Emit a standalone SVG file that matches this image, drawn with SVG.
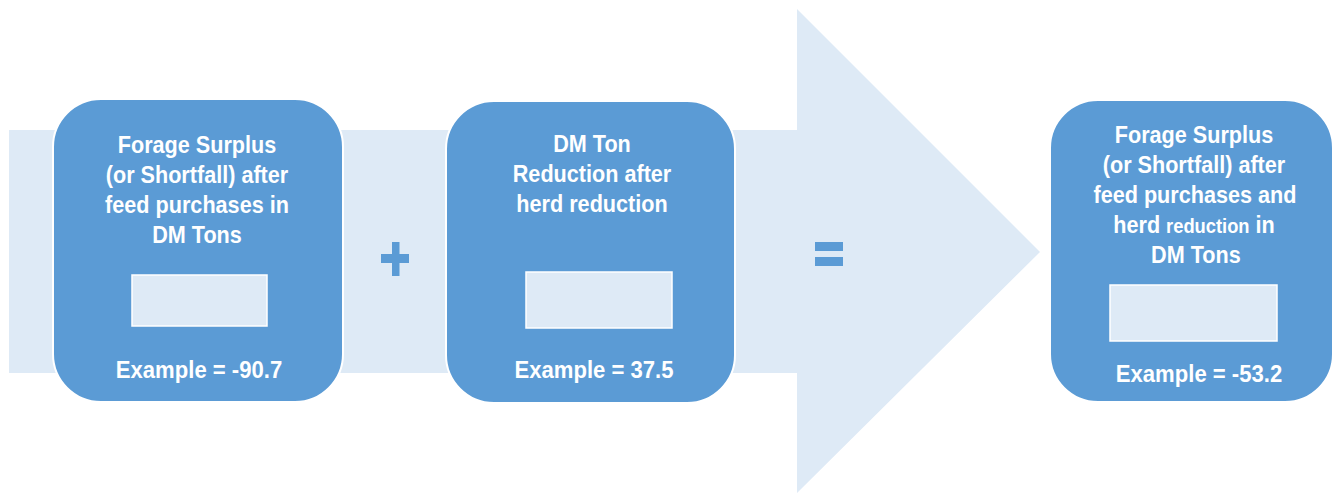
<svg xmlns="http://www.w3.org/2000/svg" width="1335" height="493" viewBox="0 0 1335 493">
  <style>
    .band { fill: #deeaf6; }
    .card { fill: #5b9bd5; stroke: #ffffff; stroke-width: 2; }
    .field { fill: #deeaf6; stroke: #ffffff; stroke-width: 1.5; }
    .label { font-family: "Liberation Sans", Arial, sans-serif; font-weight: bold; font-size: 23px; fill: #ffffff; text-anchor: middle; }
    .value { font-family: "Liberation Sans", Arial, sans-serif; font-weight: bold; font-size: 23.5px; fill: #ffffff; text-anchor: middle; }
    .op { fill: #5b9bd5; }
  </style>

  <!-- background process arrow -->
  <g id="connectors">
    <polygon class="band" points="9,130 797,130 797,9 1040,252 797,493 797,373 9,373"/>
    <!-- plus sign -->
    <g id="plus" class="op">
      <rect x="392" y="242" width="7.5" height="34"/>
      <rect x="381" y="254" width="28" height="9"/>
    </g>
    <!-- equals sign -->
    <g id="equals" class="op">
      <rect x="815" y="242" width="28" height="9"/>
      <rect x="815" y="257" width="28" height="9"/>
    </g>
  </g>

  <!-- step 1 -->
  <g id="node-forage-surplus">
    <rect class="card" x="53" y="99" width="290" height="303" rx="48" ry="48"/>
    <g transform="translate(197 0) scale(0.94 1)">
      <text class="label" x="0" y="153">Forage Surplus</text>
      <text class="label" x="0" y="183">(or Shortfall) after</text>
      <text class="label" x="0" y="213">feed purchases in</text>
      <text class="label" x="0" y="243">DM Tons</text>
    </g>
    <rect class="field" x="132" y="275" width="135" height="51"/>
    <g transform="translate(199 0) scale(0.94 1)">
      <text class="value" x="0" y="378">Example = -90.7</text>
    </g>
  </g>

  <!-- step 2 -->
  <g id="node-dm-ton-reduction">
    <rect class="card" x="446" y="101" width="289" height="302" rx="48" ry="48"/>
    <g transform="translate(592 0) scale(0.94 1)">
      <text class="label" x="0" y="152">DM Ton</text>
      <text class="label" x="0" y="182">Reduction after</text>
      <text class="label" x="0" y="212">herd reduction</text>
    </g>
    <rect class="field" x="526" y="272" width="146" height="56"/>
    <g transform="translate(594 0) scale(0.94 1)">
      <text class="value" x="0" y="378">Example = 37.5</text>
    </g>
  </g>

  <!-- result -->
  <g id="node-result">
    <rect class="card" x="1050" y="100" width="283" height="302" rx="48" ry="48"/>
    <g transform="translate(1194 0) scale(0.94 1)">
      <text class="label" x="0" y="143">Forage Surplus</text>
      <text class="label" x="0" y="173">(or Shortfall) after</text>
      <text class="label" x="1" y="203">feed purchases and</text>
      <text class="label" x="0" y="233">herd <tspan font-size="19.5px">reduction</tspan> in</text>
      <text class="label" x="2" y="263">DM Tons</text>
    </g>
    <rect class="field" x="1110" y="285" width="167" height="56"/>
    <g transform="translate(1199 0) scale(0.94 1)">
      <text class="value" x="0" y="382">Example = -53.2</text>
    </g>
  </g>
</svg>
